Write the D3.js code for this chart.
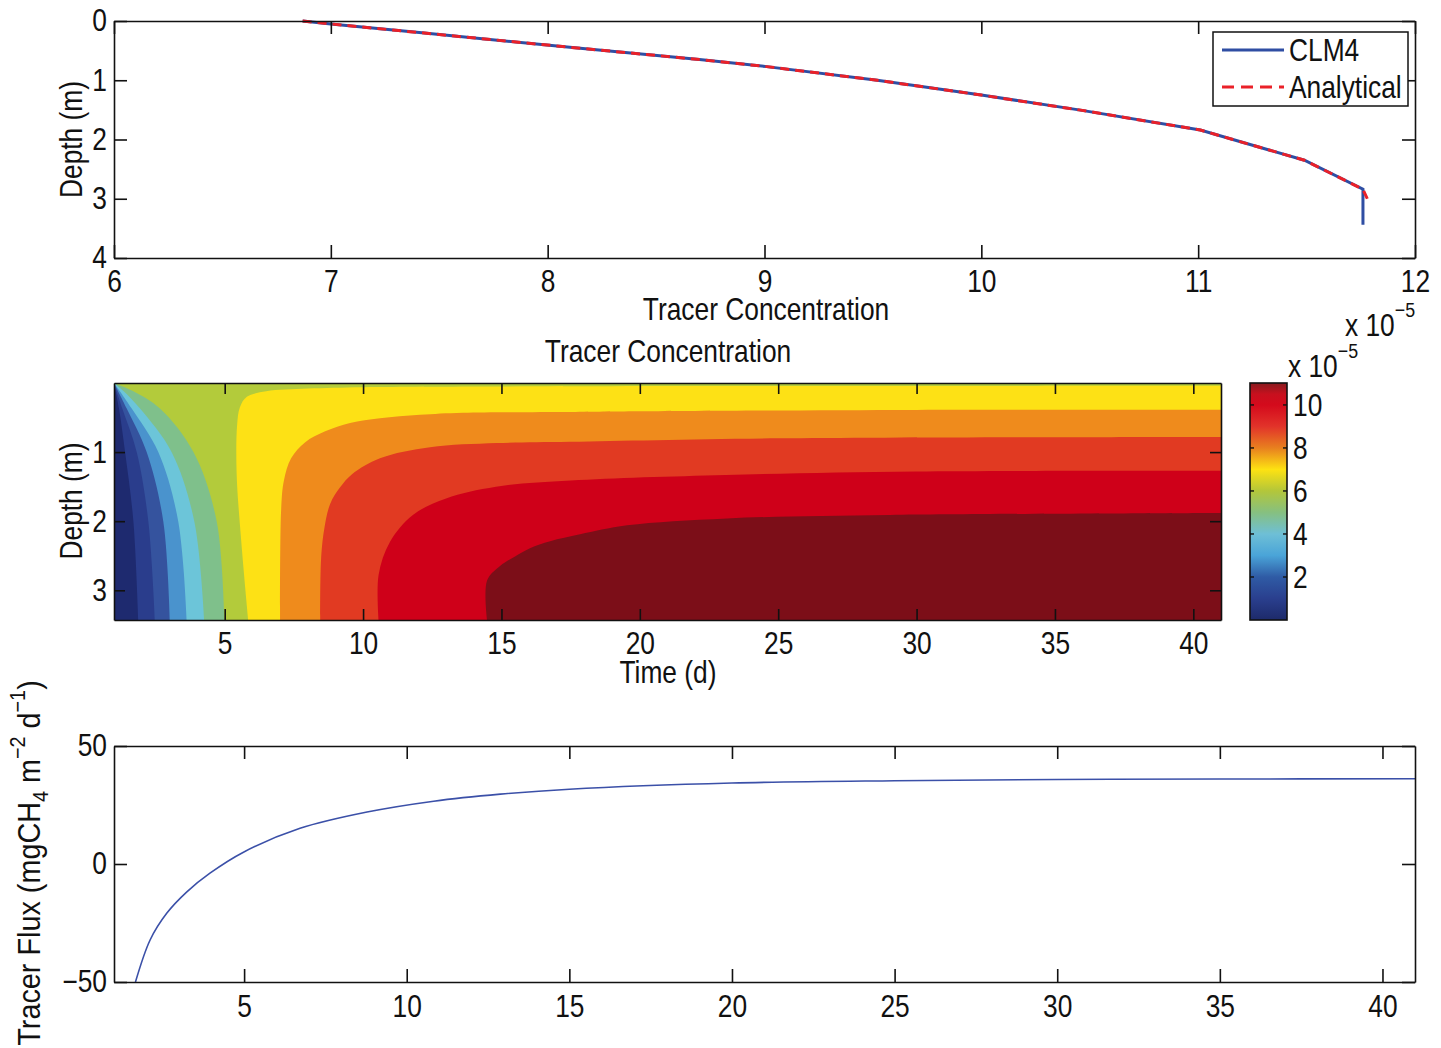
<!DOCTYPE html>
<html>
<head>
<meta charset="utf-8">
<script src="https://cdn.jsdelivr.net/npm/d3@7"></script>
<style>
    body { margin: 0; background: #fff; }
    svg text {
        font-family: 'Liberation Sans', Arial, sans-serif;
        font-size: 31px;
        fill: #111;
    }
</style>
</head>
<body>
<svg id="fig" width="1441" height="1048"></svg>
<script>
// --- top panel: depth profile (x 1e-5)
const PROFILE_DEPTH = [0, 0.05, 0.2, 0.46, 0.65, 0.77, 1.0, 1.25, 1.5, 1.84, 2.0, 2.35, 2.84, 3.44];
const CLM4_CONC = [6.87, 7.0, 7.42, 8.15, 8.70, 9.01, 9.52, 10.0, 10.45, 11.01, 11.16, 11.49, 11.76, 11.76];
const ANALYTICAL_DEPTH = [0, 0.05, 0.2, 0.46, 0.65, 0.77, 1.0, 1.25, 1.5, 1.84, 2.0, 2.35, 2.84, 3.0];
const ANALYTICAL_CONC = [6.87, 7.0, 7.42, 8.15, 8.70, 9.01, 9.52, 10.0, 10.45, 11.01, 11.16, 11.49, 11.76, 11.78];
const CONC_TICKS = [6, 7, 8, 9, 10, 11, 12];
const DEPTH_TICKS = [0, 1, 2, 3, 4];

// --- middle panel: contour levels (x 1e-5) and boundaries [time (d), depth (m)]
const LEVELS = [1, 2, 3, 4, 5, 6, 7, 8, 9, 10, 11];
const BAND_COLORS = ['#1e2a6f', '#2a3d8c', '#35539e', '#4a93cd', '#6cc5d9', '#7fc08b',
    '#b3cb3b', '#fde115', '#ef8b1c', '#e13a22', '#cf0019', '#7c0e18'];
const B1 = [[1, 0], [1.18, 0.37], [1.40, 1.0], [1.70, 2.0], [1.88, 3.43]];
const B2 = [[1, 0], [1.30, 0.37], [1.82, 1.0], [2.24, 2.0], [2.48, 3.43]];
const B3 = [[1, 0], [1.46, 0.37], [2.18, 1.0], [2.78, 2.0], [3.02, 3.43]];
const B4 = [[1, 0], [1.64, 0.37], [2.60, 1.0], [3.32, 2.0], [3.63, 3.43]];
const B5 = [[1, 0], [1.35, 0.12], [1.94, 0.37], [3.08, 1.0], [3.90, 2.0], [4.26, 3.43]];
const B6 = [[1, 0], [1.70, 0.12], [2.66, 0.37], [3.87, 1.0], [4.71, 2.0], [4.99, 3.43]];
const B7 = [[41, 0.04], [25, 0.045], [15, 0.05], [10, 0.06], [8.0, 0.08], [6.5, 0.12], [5.8, 0.2],
    [5.55, 0.35], [5.45, 0.6], [5.43, 1.3], [5.6, 2.3], [5.85, 3.43]];
const B8 = [[41, 0.39], [30, 0.39], [20, 0.41], [17.5, 0.42], [13.61, 0.43], [12.06, 0.46], [10.61, 0.51],
    [9.53, 0.58], [8.63, 0.70], [7.90, 0.86], [7.40, 1.09], [7.14, 1.41], [7.04, 1.83], [7.0, 3.43]];
const B9 = [[41, 0.78], [25, 0.80], [17.48, 0.85], [14.84, 0.87], [12.42, 0.93], [10.61, 1.09], [9.60, 1.32],
    [9.17, 1.51], [8.81, 1.75], [8.59, 2.13], [8.48, 2.57], [8.45, 3.43]];
const B10 = [[41, 1.27], [30, 1.28], [23.1, 1.33], [17.5, 1.41], [14.8, 1.5], [13.0, 1.67], [11.8, 1.91],
    [10.97, 2.3], [10.56, 2.78], [10.56, 3.43]];
const B11 = [[41, 1.88], [29.04, 1.91], [23.15, 1.96], [19.54, 2.06], [17.84, 2.19], [16.76, 2.29],
    [16.03, 2.39], [15.49, 2.51], [14.95, 2.65], [14.48, 2.86], [14.48, 3.43]];
const BOUNDARIES = [B1, B2, B3, B4, B5, B6, B7, B8, B9, B10, B11];
const TIME_TICKS = [5, 10, 15, 20, 25, 30, 35, 40];
const MID_DEPTH_TICKS = [1, 2, 3];

// --- colorbar
const CBAR_VALUES = [0, 1, 2, 3, 4, 5, 6, 7, 8, 9, 10, 10.5, 11];
const CBAR_COLORS = ['#1d2a6a', '#2a3f8e', '#2f5ba5', '#4aa4d8', '#6ebfd6', '#86c080', '#b3c63a',
    '#fde212', '#e8801f', '#e2332a', '#d40a1c', '#c8101e', '#8a1a1e'];
const CBAR_TICKS = [2, 4, 6, 8, 10];

// --- bottom panel: tracer flux
const FLUX_TIME = [1.66, 2.11, 2.62, 3.24, 3.95, 4.98, 6.72, 8.78, 10.83, 12.88, 15, 20, 25, 30, 35, 41];
const FLUX_VALUE = [-50, -32.2, -20.9, -11.8, -3.9, 5.0, 15.1, 22.0, 26.6, 29.6, 31.7, 34.3, 35.3, 35.8, 36.0, 36.1];
const FLUX_TICKS = [-50, 0, 50];

const NARROW = 0.85;
const svg = d3.select('#fig');

function drawFrame(g, x, y, xTicks, yTicks, tickLen, pad) {
    const bottom = d3.max(y.range()), top = d3.min(y.range());
    const left = d3.min(x.range()), right = d3.max(x.range());
    const fmt = d3.format('d');
    const axes = [
        [d3.axisBottom(x).tickValues(xTicks).tickFormat(fmt), `translate(0,${bottom})`, true],
        [d3.axisTop(x).tickValues(xTicks).tickFormat(''), `translate(0,${top})`, false],
        [d3.axisLeft(y).tickValues(yTicks).tickFormat(fmt), `translate(${left},0)`, true],
        [d3.axisRight(y).tickValues(yTicks).tickFormat(''), `translate(${right},0)`, false]
    ];
    axes.forEach(([ax, tr, labelled], i) => {
        const a = g.append('g')
            .attr('transform', tr)
            .call(ax.tickSizeInner(-tickLen).tickSizeOuter(0).tickPadding(i < 2 ? pad : 7));
        a.attr('font-size', null).attr('font-family', null);
        a.select('.domain').attr('stroke', '#111').attr('stroke-width', 1.6);
        a.selectAll('.tick line').attr('stroke', '#111').attr('stroke-width', 1.6);
        if (!labelled) a.selectAll('.tick text').remove();
    });
}

function rotLabel(g, x, y, txt) {
    return g.append('text')
        .attr('transform', `translate(${x},${y}) rotate(-90)`)
        .attr('text-anchor', 'middle')
        .text(txt);
}

function expLabel(g, x, y, size) {
    const t = g.append('text').attr('x', x).attr('y', y);
    t.append('tspan').text('x 10');
    t.append('tspan').attr('dy', -19).attr('font-size', size).text('\u22125');
}

// --- top panel
function drawProfile() {
    const g = svg.append('g');
    const x = d3.scaleLinear().domain([6, 12]).range([114, 1415]);
    const y = d3.scaleLinear().domain([0, 4]).range([21, 258]);

    const line = d3.line().x(d => x(d[0])).y(d => y(d[1]));
    g.append('path')
        .datum(d3.zip(CLM4_CONC, PROFILE_DEPTH))
        .attr('fill', 'none').attr('stroke', '#2f4ea3').attr('stroke-width', 3)
        .attr('d', line);
    g.append('path')
        .datum(d3.zip(ANALYTICAL_CONC, ANALYTICAL_DEPTH))
        .attr('fill', 'none').attr('stroke', '#ea2129').attr('stroke-width', 3)
        .attr('stroke-dasharray', '9,6')
        .attr('d', line);

    drawFrame(g, x, y, CONC_TICKS, DEPTH_TICKS, 13, 12);
    rotLabel(g, 82, 139.5, 'Depth (m)');
    g.append('text').attr('x', 766).attr('y', 320).attr('text-anchor', 'middle').text('Tracer Concentration');
    expLabel(g, 1345, 336, 21);

    // legend
    const lg = g.append('g');
    lg.append('rect').attr('x', 1213).attr('y', 32).attr('width', 195).attr('height', 74)
        .attr('fill', '#fff').attr('stroke', '#111').attr('stroke-width', 1.5);
    lg.append('line').attr('x1', 1222).attr('x2', 1284).attr('y1', 50).attr('y2', 50)
        .attr('stroke', '#2f4ea3').attr('stroke-width', 2.8);
    lg.append('line').attr('x1', 1222).attr('x2', 1284).attr('y1', 87).attr('y2', 87)
        .attr('stroke', '#ea2129').attr('stroke-width', 2.8).attr('stroke-dasharray', '12,7');
    lg.append('text').attr('x', 1289).attr('y', 61).text('CLM4');
    lg.append('text').attr('x', 1289).attr('y', 98).text('Analytical');
}

// --- middle panel
function drawContour() {
    const g = svg.append('g');
    const x = d3.scaleLinear().domain([1, 41]).range([114, 1221]);
    const y = d3.scaleLinear().domain([0, 3.43]).range([383, 620]);
    const [t0, t1] = x.domain(), [d0, d1] = y.domain();

    svg.append('clipPath').attr('id', 'clipMid')
        .append('rect').attr('x', x(t0)).attr('y', y(d0))
        .attr('width', x(t1) - x(t0)).attr('height', y(d1) - y(d0));

    const fills = g.append('g').attr('clip-path', 'url(#clipMid)');
    fills.append('rect')
        .attr('x', x(t0)).attr('y', y(d0))
        .attr('width', x(t1) - x(t0)).attr('height', y(d1) - y(d0))
        .attr('fill', BAND_COLORS[0]);

    const line = d3.line().x(d => x(d[0])).y(d => y(d[1])).curve(d3.curveCatmullRom.alpha(0.5));
    LEVELS.forEach((lv, i) => {
        const pts = BOUNDARIES[i];
        const corners = pts[0][0] === t0 ? [[t1, d1], [t1, d0]] : [[t1, d1]];
        const d = line(pts) + corners.map(c => `L${x(c[0])},${y(c[1])}`).join('') + 'Z';
        fills.append('path').attr('d', d).attr('fill', BAND_COLORS[i + 1]);
    });

    drawFrame(g, x, y, TIME_TICKS, MID_DEPTH_TICKS, 11, 12);
    rotLabel(g, 82, 501, 'Depth (m)');
    g.append('text').attr('x', 668).attr('y', 362).attr('text-anchor', 'middle').text('Tracer Concentration');
    g.append('text').attr('x', 668).attr('y', 683).attr('text-anchor', 'middle').text('Time (d)');

    // colorbar
    const c = d3.scaleLinear().domain([0, 11.02]).range([620, 383]);
    const grad = svg.append('defs').append('linearGradient')
        .attr('id', 'cbar').attr('x1', 0).attr('x2', 0).attr('y1', 1).attr('y2', 0);
    grad.selectAll('stop').data(CBAR_VALUES).enter().append('stop')
        .attr('offset', v => v / c.domain()[1])
        .attr('stop-color', (v, i) => CBAR_COLORS[i]);
    const cb = svg.append('g');
    cb.append('rect').attr('x', 1250).attr('y', c(c.domain()[1]))
        .attr('width', 37).attr('height', c(0) - c(c.domain()[1]))
        .attr('fill', 'url(#cbar)').attr('stroke', '#111').attr('stroke-width', 1.6);
    cb.selectAll('.ct').data(CBAR_TICKS).enter().append('g').each(function(v) {
        const s = d3.select(this);
        s.append('line').attr('x1', 1250).attr('x2', 1254).attr('y1', c(v)).attr('y2', c(v)).attr('stroke', '#111').attr('stroke-width', 1.4);
        s.append('line').attr('x1', 1283).attr('x2', 1287).attr('y1', c(v)).attr('y2', c(v)).attr('stroke', '#111').attr('stroke-width', 1.4);
        s.append('text').attr('x', 1293).attr('y', c(v)).attr('dy', '0.36em').text(v);
    });
    expLabel(cb, 1288, 377, 21);
}

// --- bottom panel
function drawFlux() {
    const g = svg.append('g');
    const x = d3.scaleLinear().domain([1, 41]).range([114, 1415]);
    const y = d3.scaleLinear().domain([-50, 50]).range([982, 746]);

    g.append('path')
        .datum(d3.zip(FLUX_TIME, FLUX_VALUE))
        .attr('fill', 'none').attr('stroke', '#3b50a8').attr('stroke-width', 1.6)
        .attr('d', d3.line().x(d => x(d[0])).y(d => y(d[1])).curve(d3.curveCatmullRom.alpha(0.5)));

    drawFrame(g, x, y, TIME_TICKS, FLUX_TICKS, 13, 13);

    const t = g.append('text')
        .attr('class', 'wide')
        .attr('transform', 'translate(40,863) rotate(-90)')
        .attr('text-anchor', 'middle')
        .style('font-size', '32px');
    t.append('tspan').text('Tracer Flux (mgCH');
    t.append('tspan').attr('dy', 8).attr('font-size', 22).text('4');
    t.append('tspan').attr('dy', -8).text(' m');
    t.append('tspan').attr('dy', -15).attr('font-size', 22).text('\u22122');
    t.append('tspan').attr('dy', 15).text(' d');
    t.append('tspan').attr('dy', -15).attr('font-size', 22).text('\u22121');
    t.append('tspan').attr('dy', 15).text(')');
}

// squeeze every text horizontally to mimic the condensed print font
function narrowTexts() {
    svg.selectAll('text').each(function() {
        const s = d3.select(this);
        const k = s.classed('wide') ? 0.9 : NARROW;
        const x = +s.attr('x') || 0, y = +s.attr('y') || 0;
        const old = s.attr('transform') || '';
        s.attr('transform', `${old} translate(${x},${y}) scale(${k},1) translate(${-x},${-y})`);
    });
}

drawProfile();
drawContour();
drawFlux();
narrowTexts();
</script>
</body>
</html>
